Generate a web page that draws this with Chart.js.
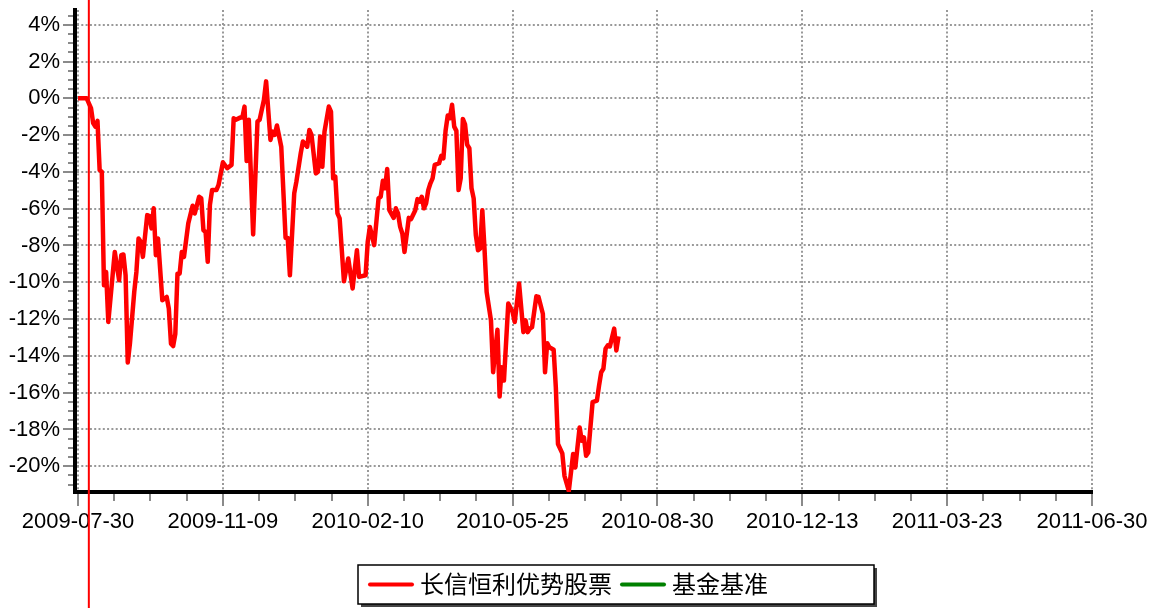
<!DOCTYPE html>
<html>
<head>
<meta charset="utf-8">
<script src="https://cdn.jsdelivr.net/npm/chart.js@4.4.1/dist/chart.umd.min.js"></script>
<style>
    html, body { margin: 0; padding: 0; background: #fff; }
    #wrap { width: 1160px; height: 608px; position: relative; }
</style>
</head>
<body>
<div id="wrap"><canvas id="navChart"></canvas></div>
<script>
// Date labels on the bottom axis, one every 67 trading days
const tickDates = ['2009-07-30', '2009-11-09', '2010-02-10', '2010-05-25',
                   '2010-08-30', '2010-12-13', '2011-03-23', '2011-06-30'];
const daysPerTick = 67;

// Trading day (counted from 2009-07-30) and cumulative return in %
const tradeDay = [
    0, 4, 6, 7, 8, 9, 10, 11, 12, 13,
    14, 16, 17, 19, 20, 21, 22, 23, 24, 26,
    27, 28, 29, 30, 32, 33, 34, 35, 36, 37,
    39, 41, 42, 43, 44, 45, 46, 47, 48, 49,
    51, 53, 54, 56, 57, 58, 59, 60, 61, 62,
    64, 65, 67, 69, 71, 72, 73, 75, 76, 77,
    78, 79, 81, 83, 84, 86, 87, 89, 90, 91,
    92, 94, 96, 97, 98, 100, 101, 103, 104, 106,
    107, 108, 110, 111, 112, 113, 114, 116, 117, 118,
    119, 120, 121, 123, 125, 127, 129, 130, 133, 134,
    135, 137, 139, 140, 141, 142, 143, 144, 146, 147,
    148, 149, 150, 151, 153, 154, 156, 157, 158, 159,
    160, 161, 162, 163, 164, 165, 167, 168, 169, 170,
    171, 172, 173, 174, 175, 176, 177, 178, 179, 180,
    181, 182, 183, 184, 185, 186, 187, 188, 189, 191,
    192, 193, 194, 195, 196, 197, 199, 201, 202, 204,
    206, 207, 208, 209, 210, 212, 213, 215, 216, 217,
    218, 220, 221, 222, 224, 225, 227, 229, 230, 232,
    233, 234, 235, 236, 238, 240, 241, 242, 243, 244,
    245, 246, 248, 249, 250
];
const fundReturn = [
    0, 0, -0.53, -1.35, -1.54, -1.23, -3.90, -3.99, -10.16, -9.44,
    -12.16, -9.62, -8.35, -9.89, -8.53, -8.49, -9.62, -14.36, -13.34, -10.53,
    -9.44, -7.62, -7.80, -8.62, -6.35, -6.40, -7.07, -5.98, -8.53, -7.62,
    -10.98, -10.80, -11.43, -13.34, -13.47, -12.80, -9.53, -9.53, -8.35, -8.62,
    -6.80, -5.84, -6.26, -5.35, -5.44, -7.17, -7.26, -8.89, -5.80, -4.99,
    -4.99, -4.71, -3.48, -3.80, -3.62, -1.08, -1.17, -1.05, -1.05, -0.45,
    -3.41, -1.17, -7.40, -1.26, -1.17, -0.08, 0.92, -2.26, -1.81, -1.99,
    -1.48, -2.63, -7.59, -7.59, -9.62, -5.17, -4.53, -2.99, -2.35, -2.63,
    -1.72, -1.99, -4.08, -3.99, -2.08, -3.72, -1.81, -0.45, -0.72, -4.35,
    -4.26, -6.26, -6.53, -9.95, -8.71, -10.34, -8.26, -9.71, -9.62, -7.80,
    -6.99, -7.98, -5.44, -5.35, -4.48, -4.89, -3.84, -6.08, -6.50, -5.98,
    -6.26, -6.99, -7.35, -8.35, -6.50, -6.57, -6.08, -5.48, -5.62, -5.35,
    -5.98, -5.71, -4.99, -4.62, -4.35, -3.62, -3.53, -3.13, -3.26, -1.77,
    -0.94, -1.08, -0.35, -1.54, -1.77, -4.99, -4.35, -1.12, -1.41, -2.53,
    -2.71, -4.89, -5.44, -7.44, -8.26, -8.16, -6.08, -8.16, -10.53, -12.07,
    -14.89, -13.71, -12.58, -16.21, -14.62, -15.34, -11.16, -11.62, -12.16, -10.07,
    -12.71, -12.07, -12.71, -12.52, -12.44, -10.76, -10.80, -11.71, -14.89, -13.31,
    -13.53, -13.67, -15.71, -18.79, -19.30, -20.52, -21.34, -19.34, -20.07, -17.89,
    -18.61, -18.43, -19.43, -19.25, -16.52, -16.43, -15.61, -14.89, -14.70, -13.61,
    -13.43, -13.49, -12.52, -13.71, -12.94
];
// Benchmark has no points in this picture, only a legend entry
const benchReturn = [];

const seriesNames = ['长信恒利优势股票', '基金基准'];
const seriesColors = ['#ff0000', '#008000'];

// Day of the red vertical marker
const markerDay = 5;

// y axis: labelled every 2%, small ticks every 0.5%
const yMajorStep = 2;
const yMinorStep = 0.5;
const yRange = [-21.4, 4.8];

if (tradeDay.length !== fundReturn.length) console.error('data length mismatch');

const gray = '#8a8a8a';
const gridGray = '#999';
const tickFont = { family: '"Liberation Sans", Arial, sans-serif', size: 22 };

// build tick lists (major ticks carry the labels)
const xTickList = [];
for (let k = 0; k <= (tickDates.length - 1) * 4; k++) {
    xTickList.push({ value: k * daysPerTick / 4, isMajor: k % 4 === 0 });
}
const yTickList = [];
for (let v = Math.ceil(yRange[0] / yMinorStep) * yMinorStep; v <= yRange[1]; v += yMinorStep) {
    yTickList.push({ value: v, isMajor: v % yMajorStep === 0 });
}

const isMajorCtx = c => !!(c.tick && c.tick.isMajor);

// red vertical marker line across the whole canvas
const markerLine = {
    id: 'markerLine',
    afterDatasetsDraw(chart) {
        const x = chart.scales.x.getPixelForValue(markerDay);
        const ctx = chart.ctx;
        ctx.save();
        ctx.strokeStyle = '#ff0000';
        ctx.lineWidth = 2;
        ctx.beginPath();
        ctx.moveTo(x, 0);
        ctx.lineTo(x, chart.height);
        ctx.stroke();
        ctx.restore();
    }
};

// boxed legend with a drop shadow
const boxLegend = {
    id: 'boxLegend',
    afterDraw(chart) {
        const ctx = chart.ctx;
        const left = 358, top = 565, w = 516, h = 39;
        ctx.save();
        ctx.fillStyle = '#444';
        ctx.fillRect(left + 3, top + 3, w, h);
        ctx.fillStyle = '#fff';
        ctx.fillRect(left, top, w, h);
        ctx.strokeStyle = '#000';
        ctx.lineWidth = 1.5;
        ctx.strokeRect(left, top, w, h);

        ctx.font = '24px "Noto Sans CJK SC", sans-serif';
        ctx.textBaseline = 'middle';
        let x = left + 12;
        const cy = top + h / 2;
        chart.data.datasets.forEach(ds => {
            ctx.strokeStyle = ds.borderColor;
            ctx.lineWidth = 4;
            ctx.lineCap = 'round';
            ctx.beginPath();
            ctx.moveTo(x, cy);
            ctx.lineTo(x + 42, cy);
            ctx.stroke();
            ctx.fillStyle = '#000';
            ctx.fillText(ds.label, x + 50, cy - 1);
            x += 50 + ctx.measureText(ds.label).width + 10;
        });
        ctx.restore();
    }
};

new Chart(document.getElementById('navChart'), {
    type: 'line',
    data: {
        datasets: [
            {
                label: seriesNames[0],
                data: tradeDay.map((d, i) => ({ x: d, y: fundReturn[i] })),
                borderColor: seriesColors[0],
                borderWidth: 4.5,
                pointRadius: 0,
                tension: 0,
                borderJoinStyle: 'round',
                fill: false
            },
            {
                label: seriesNames[1],
                data: benchReturn,
                borderColor: seriesColors[1],
                borderWidth: 4,
                pointRadius: 0,
                fill: false
            }
        ]
    },
    options: {
        responsive: true,
        maintainAspectRatio: false,
        animation: false,
        layout: { padding: { top: 10, right: 68, bottom: 0, left: 0 } },
        plugins: {
            legend: { display: false },
            tooltip: { enabled: false }
        },
        scales: {
            x: {
                type: 'linear',
                min: -1.4,
                max: (tickDates.length - 1) * daysPerTick,
                afterBuildTicks: s => { s.ticks = xTickList.map(t => ({ ...t })); },
                afterFit: s => { s.height = 116; s.paddingLeft = 0; s.paddingRight = 0; },
                ticks: {
                    autoSkip: false,
                    maxRotation: 0,
                    minRotation: 0,
                    padding: 3,
                    color: '#000',
                    font: tickFont,
                    callback: (v, i) => xTickList[i].isMajor ? tickDates[i / 4] : ''
                },
                grid: {
                    color: c => isMajorCtx(c) ? gridGray : 'rgba(0,0,0,0)',
                    lineWidth: 2,
                    tickLength: 14,
                    tickWidth: 2,
                    tickColor: gray,
                    tickBorderDash: c => isMajorCtx(c) ? [] : [7, 100]
                },
                border: { color: '#000', width: 4, dash: [2, 2.3] }
            },
            y: {
                type: 'linear',
                min: yRange[0],
                max: yRange[1],
                afterBuildTicks: s => { s.ticks = yTickList.map(t => ({ ...t })); },
                afterFit: s => { s.width = 75; s.paddingTop = 0; s.paddingBottom = 0; },
                ticks: {
                    autoSkip: false,
                    padding: 3,
                    color: '#000',
                    font: tickFont,
                    callback: (v, i) => yTickList[i].isMajor ? v + '%' : ''
                },
                grid: {
                    color: c => isMajorCtx(c) ? gridGray : 'rgba(0,0,0,0)',
                    lineWidth: 2,
                    tickLength: 12,
                    tickWidth: 2,
                    tickColor: gray,
                    tickBorderDash: c => isMajorCtx(c) ? [] : [0, 5, 10, 100]
                },
                border: { color: '#000', width: 4, dash: [2, 2.3] }
            }
        }
    },
    plugins: [markerLine, boxLegend]
});
</script>
</body>
</html>
